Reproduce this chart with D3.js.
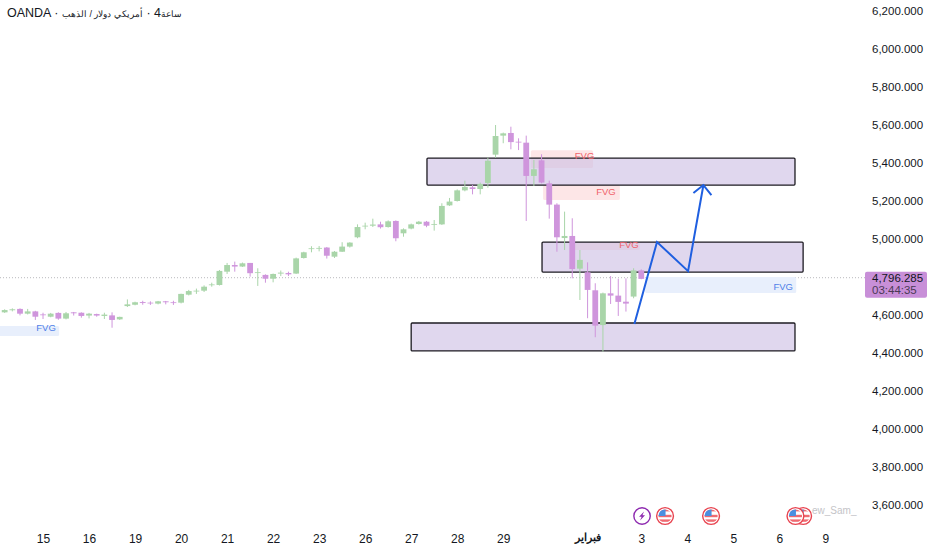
<!DOCTYPE html>
<html>
<head>
<meta charset="utf-8">
<script src="https://d3js.org/d3.v7.min.js"></script>
<style>
  html, body { margin: 0; padding: 0; background: #fff; }
  svg { display: block; font-family: "Liberation Sans", Arial, sans-serif; }
  .price-axis text { font-size: 11.5px; fill: #131722; }
  .time-axis text { font-size: 12px; fill: #131722; }
  .title { font-size: 12.5px; fill: #131722; }
  .fvg { font-size: 9.5px; }
</style>
</head>
<body>
<script>
// 4h candles
var opens = [4614,4625,4632,4607,4619,4603,4591,4611,4581,4614,4612,4597,4605,4595,4598,4577,4647,4654,4668,4665,4660,4672,4667,4665,4707,4725,4728,4758,
  4758,4828,4863,4855,4874,4821,4811,4791,4818,4821,4818,4900,4947,4949,4955,4907,4933,4960,5009,5069,5070,5077,5063,5095,5030,5055,5079,5091,5077,5077,5177,
  5200,5256,5272,5263,5295,5444,5544,5558,5512,5507,5332,5414,5293,5181,5005,5016,4844,4825,4730,4547,4714,4702,4670,4697,4835];
var highs = [4630,4635,4635,4632,4622,4612,4611,4614,4616,4616,4614,4611,4607,4612,4614,4591,4682,4670,4675,4672,4674,4674,4675,4712,4732,4739,4756,4770,
  4837,4874,4881,4876,4874,4846,4814,4818,4834,4828,4902,4933,4962,4963,4958,4937,4983,4983,5077,5086,5107,5091,5098,5098,5056,5081,5095,5095,5100,5188,5216,
  5261,5307,5284,5297,5428,5600,5560,5591,5530,5544,5416,5446,5307,5188,5144,5109,4942,4877,4767,4718,4805,4791,4793,4846,4840];
var lows = [4611,4619,4598,4603,4574,4579,4588,4575,4577,4597,4586,4582,4591,4579,4533,4574,4642,4651,4654,4653,4656,4656,4653,4661,4703,4711,4721,4749,
  4755,4816,4828,4853,4802,4753,4770,4772,4805,4805,4816,4897,4930,4935,4897,4900,4932,4955,5004,5051,5063,5055,5060,4988,5012,5051,5076,5062,5044,5074,5174,
  5197,5251,5235,5235,5270,5428,5504,5472,5468,5095,5279,5293,5107,4933,4942,4793,4679,4583,4483,4407,4658,4595,4618,4688,4788];
var closes = [4626,4630,4607,4619,4591,4600,4607,4581,4609,4609,4595,4607,4597,4602,4574,4590,4656,4667,4663,4661,4672,4667,4663,4711,4726,4728,4749,4761,
  4832,4863,4855,4872,4820,4825,4791,4816,4823,4814,4898,4930,4951,4953,4912,4933,4960,4981,5063,5070,5076,5062,5093,5004,5051,5077,5091,5070,5079,5174,5197,
  5256,5274,5263,5290,5412,5542,5556,5510,5509,5332,5367,5297,5181,5009,5016,4842,4890,4732,4544,4714,4702,4669,4660,4835,4790];

var priceTicks = [6200,6000,5800,5600,5400,5200,5000,4600,4400,4200,4000,3800,3600];
var lastPrice = 4796.285;
var countdown = "03:44:35";

var timeTicks = [5,11,17,23,29,35,41,47,53,59,65,76,83,89,95,101,107];
var timeLabels = ["15","16","19","20","21","22","23","26","27","28","29","فبراير","3","4","5","6","9"];

// zones: [start index, end index, top price, bottom price]
var zones = [[55.06,103.04,5426,5284],[70.06,104.1,4984,4826],[53,103.04,4558,4411]];
var redGaps = [[68.6,76.7,5467,5374],[70.2,80.2,5284,5205],[74.1,82.8,4979,4942]];
var blueGaps = [[-1,7.1,4542,4489],[83.5,103.2,4800,4716]];
var gapLabelsRed = [[75.6,5441],[78.4,5247],[81.4,4968]];
var gapLabelsBlue = [[5.4,4531],[101.5,4747]];

var arrowIdx = [82.1,85.05,89.1,91.1];
var arrowPrice = [4553,4984,4831,5284];

var boltEvents = [83.1];
var usEvents = [104.1,103.1,92.1,86.1];

var width = 932, height = 550;
var green = "#a9d5a9", pink = "#cf95dc";

var x = d3.scaleLinear().domain([0,100]).range([4.67,771.67]);
var y = d3.scaleLinear().domain([6200,3600]).range([11,505]);

var svg = d3.select("body").append("svg")
  .attr("width", width)
  .attr("height", height);

// dotted last price line
svg.append("line")
  .attr("x1", 0).attr("x2", 865)
  .attr("y1", y(lastPrice)).attr("y2", y(lastPrice))
  .attr("stroke", "#b9b9bd").attr("stroke-width", 1)
  .attr("stroke-dasharray", "1 2");

function gapRects(data, color) {
  svg.append("g").selectAll("rect").data(data).enter().append("rect")
    .attr("x", function(d) { return x(d[0]); })
    .attr("y", function(d) { return y(d[2]); })
    .attr("width", function(d) { return x(d[1]) - x(d[0]); })
    .attr("height", function(d) { return y(d[3]) - y(d[2]); })
    .attr("rx", 1.5)
    .attr("fill", color);
}
gapRects(redGaps, "#fde6e7");
gapRects(blueGaps, "#e8effc");

function gapLabels(data, color) {
  svg.append("g").selectAll("text").data(data).enter().append("text")
    .attr("class", "fvg")
    .attr("x", function(d) { return x(d[0]); })
    .attr("y", function(d) { return y(d[1]); })
    .attr("dy", ".35em")
    .attr("text-anchor", "middle")
    .attr("fill", color)
    .text("FVG");
}

// purple zones, candles stay readable on top
svg.append("g").selectAll("rect").data(zones).enter().append("rect")
  .attr("x", function(d) { return x(d[0]); })
  .attr("y", function(d) { return y(d[2]); })
  .attr("width", function(d) { return x(d[1]) - x(d[0]); })
  .attr("height", function(d) { return y(d[3]) - y(d[2]); })
  .attr("rx", 1)
  .attr("fill", "#cdbfe4").attr("fill-opacity", 0.62)
  .attr("stroke", "#1d1b22").attr("stroke-width", 1.3);

// candles
var idx = d3.range(opens.length);
var candles = svg.append("g").selectAll("g").data(idx).enter().append("g");
candles.append("line")
  .attr("x1", function(i) { return x(i); })
  .attr("x2", function(i) { return x(i); })
  .attr("y1", function(i) { return y(highs[i]); })
  .attr("y2", function(i) { return y(lows[i]); })
  .attr("stroke", function(i) { return closes[i] >= opens[i] ? green : pink; })
  .attr("stroke-width", 1);
candles.append("rect")
  .attr("x", function(i) { return x(i) - 2.9; })
  .attr("width", 5.8)
  .attr("y", function(i) { return y(Math.max(opens[i], closes[i])); })
  .attr("height", function(i) { return Math.max(0.8, Math.abs(y(opens[i]) - y(closes[i]))); })
  .attr("fill", function(i) { return closes[i] >= opens[i] ? green : pink; });

gapLabels(gapLabelsRed, "#f0626a");
gapLabels(gapLabelsBlue, "#4f7fe8");

// projected path
var path = d3.line()
  .x(function(d, i) { return x(d); })
  .y(function(d, i) { return y(arrowPrice[i]); });
svg.append("path")
  .attr("d", path(arrowIdx))
  .attr("fill", "none")
  .attr("stroke", "#1f5fe0").attr("stroke-width", 2)
  .attr("stroke-linejoin", "miter");
var tipX = x(arrowIdx[3]), tipY = y(arrowPrice[3]);
svg.append("path")
  .attr("d", "M" + (tipX - 10) + "," + (tipY + 8) + "L" + tipX + "," + tipY + "L" + (tipX + 8) + "," + (tipY + 10))
  .attr("fill", "none")
  .attr("stroke", "#1f5fe0").attr("stroke-width", 2);

// right price axis
var priceAxis = d3.axisRight(y)
  .tickValues(priceTicks)
  .tickSize(0)
  .tickPadding(0)
  .tickFormat(function(d) { return d3.format(",.3f")(d); });
svg.append("g").attr("class", "price-axis")
  .attr("transform", "translate(872,0)")
  .call(priceAxis)
  .call(function(g) { g.select(".domain").remove(); });

// last price tag
svg.append("rect")
  .attr("x", 865).attr("y", y(lastPrice) - 6)
  .attr("width", 62).attr("height", 26).attr("rx", 2)
  .attr("fill", "#c88fd8");
svg.append("text").attr("x", 872).attr("y", y(lastPrice) + 4)
  .attr("font-size", 11.5).attr("fill", "#131722")
  .text(d3.format(",.3f")(lastPrice));
svg.append("text").attr("x", 872).attr("y", y(lastPrice) + 16.5)
  .attr("font-size", 11.5).attr("fill", "#4a3a55")
  .text(countdown);

// bottom time axis
var timeAxis = d3.axisBottom(x)
  .tickValues(timeTicks)
  .tickSize(0)
  .tickPadding(0)
  .tickFormat(function(d, i) { return timeLabels[i]; });
svg.append("g").attr("class", "time-axis")
  .attr("transform", "translate(0,534)")
  .call(timeAxis)
  .call(function(g) { g.select(".domain").remove(); })
  .selectAll("text")
  .style("font-size", function(d, i) { return timeLabels[i] === "فبراير" ? "10.5px" : null; })
  .attr("font-weight", function(d, i) { return timeLabels[i] === "فبراير" ? "bold" : null; });

// watermark, sits behind the event icons
svg.append("text")
  .attr("x", 812).attr("y", 514)
  .attr("font-size", 10).attr("fill", "#c4c4c8")
  .text("ew_Sam_");

// event icons
var defs = svg.append("defs");
defs.append("clipPath").attr("id", "flag-clip").append("circle").attr("r", 6.6);

var bolts = svg.append("g").selectAll("g").data(boltEvents).enter().append("g")
  .attr("transform", function(d) { return "translate(" + x(d) + ",516)"; });
bolts.append("circle").attr("r", 8.2).attr("fill", "#fff").attr("stroke", "#8e2bb0").attr("stroke-width", 1.4);
bolts.append("path").attr("d", "M2,-4.5L-3,0.8H-0.4L-2,4.5L3,-0.8H0.4Z").attr("fill", "#8e2bb0");

var flags = svg.append("g").selectAll("g").data(usEvents).enter().append("g")
  .attr("transform", function(d) { return "translate(" + x(d) + ",516)"; });
flags.append("circle").attr("r", 8.4).attr("fill", "#fff").attr("stroke", "#e8434f").attr("stroke-width", 1.4);
var inner = flags.append("g").attr("clip-path", "url(#flag-clip)");
inner.append("rect").attr("x", -7).attr("y", -7).attr("width", 14).attr("height", 14).attr("fill", "#fff");
inner.append("rect").attr("x", -7).attr("y", -7).attr("width", 14).attr("height", 2.4).attr("fill", "#ef6a72");
inner.append("rect").attr("x", -7).attr("y", -1.2).attr("width", 14).attr("height", 2.4).attr("fill", "#ef6a72");
inner.append("rect").attr("x", -7).attr("y", 3.4).attr("width", 14).attr("height", 2.4).attr("fill", "#ef6a72");
inner.append("rect").attr("x", -7).attr("y", -7).attr("width", 7.5).attr("height", 7).attr("fill", "#4b8fe0");

// header, every word keeps its own run left to right
var title = svg.append("text")
  .attr("class", "title")
  .attr("x", 7).attr("y", 17)
  .attr("direction", "ltr");
title.append("tspan").text("OANDA · ");
title.append("tspan").attr("font-size", 9).text("\u200Eالذهب\u200E / \u200Eدولار\u200E \u200Eأمريكي\u200E");
title.append("tspan").text(" · 4");
title.append("tspan").attr("font-size", 9).text("ساعة");
</script>
</body>
</html>
